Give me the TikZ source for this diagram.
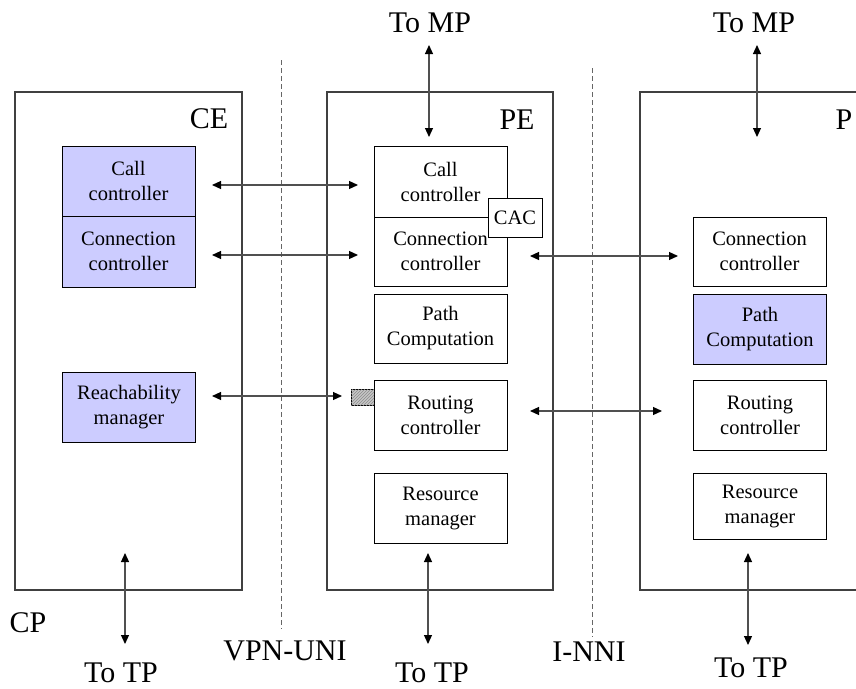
\documentclass[tikz,border=0pt]{standalone}
\usepackage{fontspec}
\setmainfont{Liberation Serif}
\usetikzlibrary{arrows.meta,patterns}
\definecolor{cpblue}{HTML}{CCCCFF}
\definecolor{framegray}{HTML}{404040}
\definecolor{linkgray}{HTML}{505050}

\begin{document}
\begin{tikzpicture}[x=1pt,y=-1pt,
  frame/.style={draw=framegray, line width=1.2pt, inner sep=0pt},
  fn/.style={draw=black, line width=0.9pt, fill=white, align=center, inner sep=0pt,
    font=\fontsize{20.5}{25}\selectfont},
  fnw/.style={fn, minimum width=133pt, minimum height=70pt},
  shaded/.style={fill=cpblue},
  biarrow/.style={linkgray, line width=1.2pt,
    {Triangle[length=9pt,width=8pt,color=black]}-{Triangle[length=9pt,width=8pt,color=black]}},
  border/.style={draw=gray!80!black, dash pattern=on 5pt off 3pt, line width=0.9pt},
  big/.style={font=\fontsize{30}{36}\selectfont, inner sep=0pt},
]
\useasboundingbox (0,0) rectangle (856,688);

% interface boundaries
\coordinate (d1t) at (281,60);  \coordinate (d1b) at (281,629);
\coordinate (d2t) at (592,68);  \coordinate (d2b) at (592,637);
\draw[border] (d1t) -- (d1b);
\draw[border] (d2t) -- (d2b);

% network elements
\node[frame, minimum width=227pt, minimum height=498pt] (ce) at (128.5,341) {};
\node[frame, minimum width=226pt, minimum height=498pt] (pe) at (440,341) {};
\draw[framegray, line width=1.2pt] (856,92) -- (640,92) -- (640,590) -- (856,590);

\node[big] (celbl) at (209,119) {CE};
\node[big] (pelbl) at (517,120) {PE};
\node[big] (plbl)  at (844,120) {P};

% CE functions
\node[fnw, shaded, minimum height=70pt] (cecall) at (128.5,181) {Call\\controller};
\node[fnw, shaded, minimum height=71pt] (ceconn) at (128.5,251.5) {Connection\\controller};
\node[fnw, shaded] (cereach) at (129,407) {Reachability\\manager};

% PE functions
\node[fnw, minimum height=71pt] (pecall) at (440.5,181.5) {Call\\controller};
\node[fnw, minimum height=69pt] (peconn) at (440.5,251.5) {Connection\\controller};
\node[fn, minimum width=54pt, minimum height=39pt] (cac) at (515,217.5) {CAC};
\node[fnw, minimum height=69pt] (pepath) at (440.5,328.5) {Path\\Computation};
\node[fnw] (peroute) at (440.5,415) {Routing\\controller};
\node[draw=black, line width=0.9pt, fill=gray!45,
  postaction={pattern=north east lines, pattern color=gray!90},
  minimum width=23pt, minimum height=16pt, inner sep=0pt] (port) at (362.5,397) {};
\node[fnw] (peres) at (440.5,508) {Resource\\manager};

% P functions
\node[fnw, minimum height=69pt] (pconn) at (759.5,251.5) {Connection\\controller};
\node[fnw, shaded] (ppath) at (760,329) {Path\\Computation};
\node[fnw] (proute) at (760,415) {Routing\\controller};
\node[fnw, minimum height=66pt] (pres) at (760,506) {Resource\\manager};

% link end points
\coordinate (a1l) at (212,185); \coordinate (a1r) at (358,185);
\coordinate (a2l) at (212,255); \coordinate (a2r) at (358,255);
\coordinate (a3l) at (212,396); \coordinate (a3r) at (342,396);
\coordinate (a4l) at (530,256); \coordinate (a4r) at (678,256);
\coordinate (a5l) at (530,411); \coordinate (a5r) at (662,411);
\coordinate (m1t) at (429,45);  \coordinate (m1b) at (429,137);
\coordinate (m2t) at (757,45);  \coordinate (m2b) at (757,137);
\coordinate (t1t) at (125,553); \coordinate (t1b) at (125,644);
\coordinate (t2t) at (428,553); \coordinate (t2b) at (428,644);
\coordinate (t3t) at (748,553); \coordinate (t3b) at (748,645);

\draw[biarrow] (a1l) -- (a1r);
\draw[biarrow] (a2l) -- (a2r);
\draw[biarrow] (a3l) -- (a3r);
\draw[biarrow] (a4l) -- (a4r);
\draw[biarrow] (a5l) -- (a5r);
\draw[biarrow] (m1t) -- (m1b);
\draw[biarrow] (m2t) -- (m2b);
\draw[biarrow] (t1t) -- (t1b);
\draw[biarrow] (t2t) -- (t2b);
\draw[biarrow] (t3t) -- (t3b);

% external labels
\node[big] (mp1) at (430,23) {To MP};
\node[big] (mp2) at (754,23) {To MP};
\node[big] (cp) at (28,623) {CP};
\node[big] (uni) at (285,651) {VPN-UNI};
\node[big] (nni) at (589,652) {I-NNI};
\node[big] (tp1) at (121,673) {To TP};
\node[big] (tp2) at (432,673) {To TP};
\node[big] (tp3) at (751,668) {To TP};
\end{tikzpicture}
\end{document}
